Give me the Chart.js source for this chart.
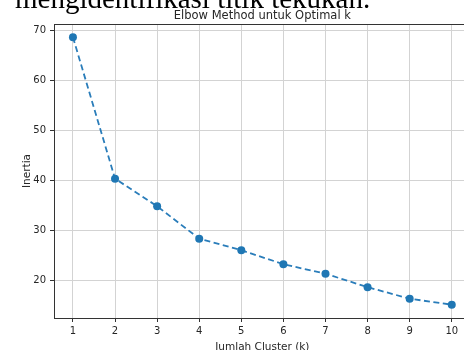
<!DOCTYPE html>
<html>
<head>
<meta charset="utf-8">
<script src="https://cdn.jsdelivr.net/npm/chart.js@4.4.1/dist/chart.umd.min.js"></script>
<style>
  html, body { margin: 0; padding: 0; background: #fff; width: 464px; height: 350px; overflow: hidden; }
  #wrap { position: absolute; left: 0; top: 0; width: 490px; height: 350px; }
  #caption { position: absolute; left: 15px; top: -16px; font-family: "Liberation Serif", "Times New Roman", serif; font-size: 29px; line-height: 28px; color: #000; white-space: nowrap; z-index: 2; }
  canvas { background: #fff; }
</style>
</head>
<body>
<div id="wrap"><canvas id="c" width="490" height="350"></canvas></div>
<div id="caption">mengidentifikasi titik tekukan.</div>
<script>
const clusters = [1, 2, 3, 4, 5, 6, 7, 8, 9, 10];
const inertia = [68.7, 40.4, 34.9, 28.4, 26.1, 23.3, 21.4, 18.7, 16.4, 15.2];
const yTickValues = [20, 30, 40, 50, 60, 70];
const xTickValues = clusters;
const chartTitle = 'Elbow Method untuk Optimal k';
const xTitle = 'Jumlah Cluster (k)';
const yTitle = 'Inertia';

const FONT = 'DejaVu Sans';
const TEXT = '#262626';

const topSpine = {
  id: 'topSpine',
  afterDraw(chart) {
    const {ctx, chartArea} = chart;
    ctx.save();
    ctx.strokeStyle = '#333';
    ctx.lineWidth = 1;
    ctx.beginPath();
    ctx.moveTo(chartArea.left, Math.round(chartArea.top) + 0.5);
    ctx.lineTo(chartArea.right, Math.round(chartArea.top) + 0.5);
    ctx.stroke();
    ctx.restore();
  }
};

new Chart(document.getElementById('c'), {
  type: 'line',
  data: {
    datasets: [{
      data: clusters.map((k, i) => ({x: k, y: inertia[i]})),
      borderColor: '#2a7dba',
      backgroundColor: '#1f77b4',
      borderWidth: 1.8,
      borderDash: [6, 3.5],
      pointRadius: 4,
      pointBorderWidth: 0,
      pointBackgroundColor: '#1f77b4',
      tension: 0,
      fill: false
    }]
  },
  options: {
    responsive: false,
    animation: false,
    layout: { padding: { left: 0, right: 19.3, top: 0, bottom: 0 } },
    plugins: {
      legend: { display: false },
      tooltip: { enabled: false },
      title: {
        display: true,
        text: chartTitle,
        fullSize: false,
        color: TEXT,
        font: { family: FONT, size: 11.5, weight: 'normal', lineHeight: 1.2 },
        padding: { top: 9, bottom: 1.2 }
      }
    },
    scales: {
      x: {
        type: 'linear',
        min: 0.55,
        max: 10.45,
        afterBuildTicks: s => { s.ticks = xTickValues.map(v => ({value: v})); },
        afterFit: s => { s.height = 32; },
        ticks: {
          color: TEXT,
          font: { family: FONT, size: 10 },
          padding: 3,
          maxRotation: 0,
          autoSkip: false
        },
        grid: { color: '#d3d3d3', lineWidth: 1, tickColor: '#333', tickLength: 4, drawTicks: true },
        border: { display: true, color: '#333', width: 1 },
        title: {
          display: true,
          text: xTitle,
          color: TEXT,
          font: { family: FONT, size: 10.5, lineHeight: 0.5 },
          padding: { top: 0, bottom: 0 }
        }
      },
      y: {
        type: 'linear',
        min: 12.54,
        max: 71.34,
        afterBuildTicks: s => { s.ticks = yTickValues.map(v => ({value: v})); },
        afterFit: s => { s.width = 54; },
        ticks: {
          color: TEXT,
          font: { family: FONT, size: 10 },
          padding: 4
        },
        grid: { color: '#d3d3d3', lineWidth: 1, tickColor: '#333', tickLength: 4, drawTicks: true },
        border: { display: true, color: '#333', width: 1 },
        title: {
          display: true,
          text: yTitle,
          color: TEXT,
          font: { family: FONT, size: 10.5, lineHeight: 1.2 },
          padding: { top: 20.7, bottom: 0 }
        }
      }
    }
  },
  plugins: [topSpine]
});
</script>
</body>
</html>
